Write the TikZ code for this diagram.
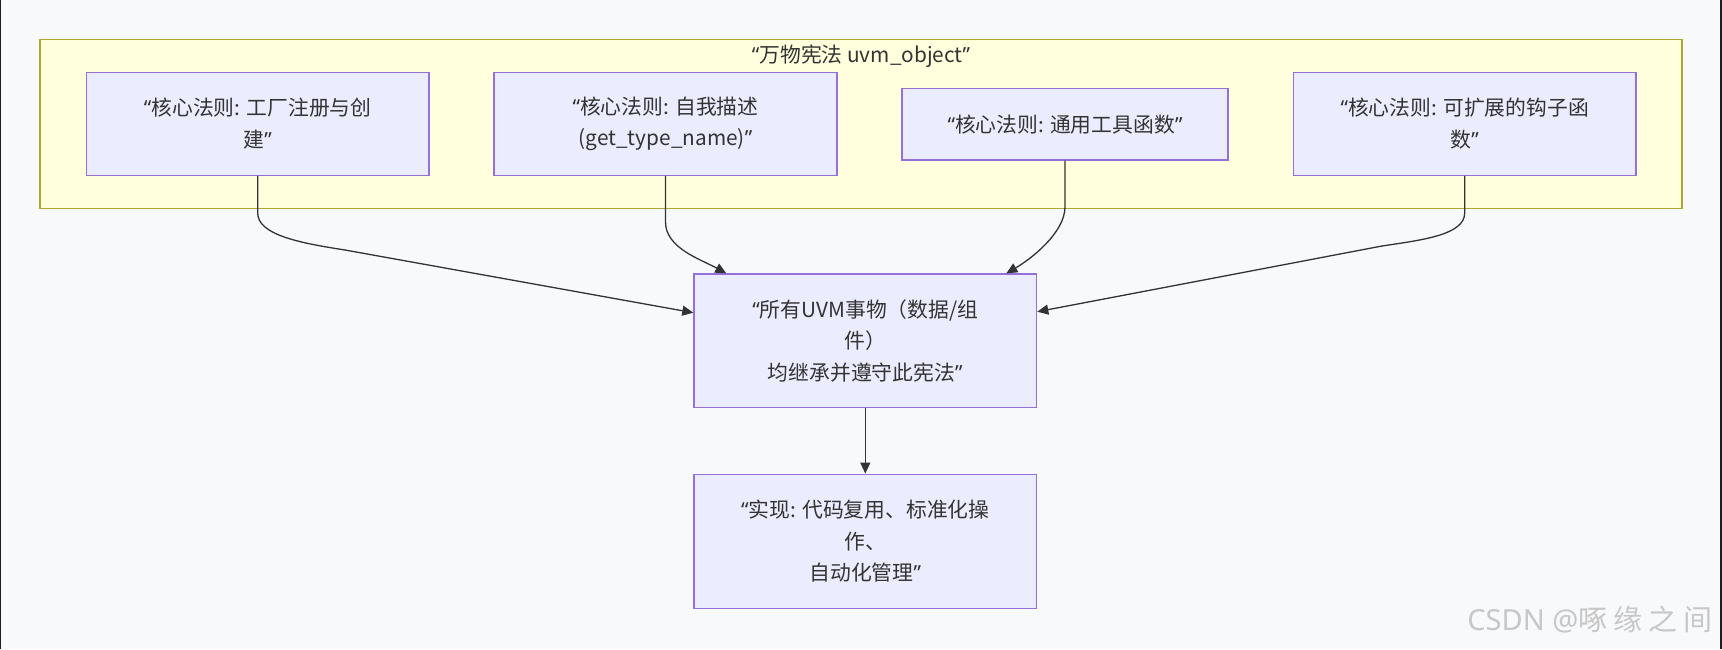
\documentclass[tikz,border=0pt]{standalone}
\usepackage{fontspec}
\newfontfamily\cjk{Noto Sans CJK SC}
\newfontfamily\lat{Noto Sans}
\usetikzlibrary{arrows.meta}
\definecolor{bg}{HTML}{F8F9FB}
\definecolor{nodefill}{HTML}{ECECFF}
\definecolor{nodeline}{HTML}{9370DB}
\definecolor{clfill}{HTML}{FFFFDE}
\definecolor{clline}{HTML}{AAAA33}
\definecolor{txt}{HTML}{333333}
\definecolor{frame}{HTML}{1E1E1E}
\newcommand\oq{{\lat “}}
\newcommand\cq{{\lat ”}}
\begin{document}
\begin{tikzpicture}[x=1pt,y=-1pt,
  box/.style={draw=nodeline, fill=nodefill, line width=1.3pt, inner sep=0pt,
    align=center, font=\cjk\fontsize{20.8}{31.7}\selectfont, text=txt},
  cluster/.style={draw=clline, fill=clfill, line width=1.3pt, inner sep=0pt},
  edge/.style={draw=txt, line width=1.3pt, -{Triangle[length=11pt,width=10pt]}},
]
\useasboundingbox (0,0) rectangle (1722,649);
\fill[bg] (0,0) rectangle (1722,649);
\fill[frame] (0,0) rectangle (1,649);
\fill[frame] (1720,0) rectangle (1722,649);

% cluster
\node[cluster, minimum width=1642pt, minimum height=169pt] (cl) at (861,124) {};
\node[font=\cjk\fontsize{20.8}{25}\selectfont, text=txt] (cllabel) at (861,56) {\oq 万物宪法 uvm\_object\cq};

% core nodes
\node[box, minimum width=342.5pt, minimum height=103pt] (n1) at (257.7,123.8)
  {\oq 核心法则: 工厂注册与创\\建\cq};
\node[box, minimum width=343pt, minimum height=103pt] (n2) at (665.5,123.8)
  {\oq 核心法则: 自我描述\\(get\_type\_name)\cq};
\node[box, minimum width=326pt, minimum height=71.7pt] (n3) at (1065,124.2)
  {\oq 核心法则: 通用工具函数\cq};
\node[box, minimum width=342.7pt, minimum height=103pt] (n4) at (1464.7,123.8)
  {\oq 核心法则: 可扩展的钩子函\\数\cq};

\node[box, minimum width=342.7pt, minimum height=133.4pt] (A) at (865.3,340.7)
  {\oq 所有UVM事物（数据/组\\件）\\均继承并遵守此宪法\cq};
\node[box, minimum width=342.7pt, minimum height=134pt] (B) at (865.3,541.2)
  {\oq 实现: 代码复用、标准化操\\作、\\自动化管理\cq};

% edges
\draw[edge] (n1.south) -- ++(0,37) .. controls ++(0,22) and (300,243) .. (345,250) -- ([yshift=28pt]A.west);
\draw[edge] (n2.south) -- ++(0,46) .. controls ++(0,26) and (700,259) .. ([xshift=33pt]A.north west);
\draw[edge] (n3.south) -- ++(0,46) .. controls ++(0,26) and (1031,259) .. ([xshift=-31pt]A.north east);
\draw[edge] (n4.south) -- ++(0,37) .. controls ++(0,22) and (1422,240) .. (1382,246) -- ([yshift=29pt]A.east);
\draw[edge] (A.south) -- (B.north);

% watermark
\node[font=\cjk\fontsize{29}{32}\selectfont, text=black!22, anchor=east] (wm) at (1716,620)
  {{\lat CSDN @}啄\kern6pt 缘\kern6pt 之\kern6pt 间};
\end{tikzpicture}
\end{document}
